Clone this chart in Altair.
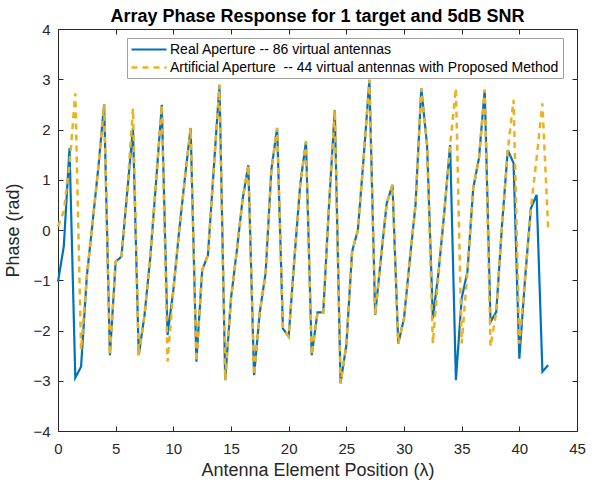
import altair as alt
import pandas as pd

# Element positions (half-wavelength spacing) and measured phases
positions = [i * 0.5 for i in range(86)]

real_phase = [
    -1.03, -0.33, 1.63, -2.94, -2.72, -0.92, 0.15, 1.25, 2.50, -2.49,
    -0.63, -0.53, 0.75, 2.03, -2.49, -1.70, -0.55, 0.95, 2.49, -2.09,
    -1.20, -0.03, 1.03, 2.03, -2.62, -0.80, -0.50, 1.20, 2.89, -2.99,
    -1.36, -0.42, 0.60, 1.29, -2.89, -1.63, -0.86, 1.20, 2.03, -1.96,
    -2.12, -0.56, 0.90, 1.76, -2.49, -1.64, -1.64, 0.50, 2.39, -3.05,
    -2.29, -0.43, 0.00, 1.43, 2.99, -1.69, -0.56, 0.53, 0.90, -2.26,
    -1.76, -0.60, 0.50, 2.82, 1.69, -1.76, -0.83, 0.37, 1.69, -2.99,
    -1.36, -0.83, 0.83, 1.43, 2.79, -1.83, -1.63, 0.10, 1.59, 1.33,
    -2.56, -0.96, 0.43, 0.70, -2.82, -2.69,
]

artificial_phase = [
    0.07, 0.37, 1.30, 2.72, -2.39, -0.92, 0.15, 1.25, 2.50, -2.49,
    -0.63, -0.53, 0.75, 2.42, -2.49, -1.70, -0.55, 0.95, 2.49, -2.62,
    -1.20, -0.03, 1.03, 2.03, -2.62, -0.80, -0.50, 1.20, 2.89, -2.99,
    -1.36, -0.42, 0.60, 1.29, -2.89, -1.63, -0.86, 1.20, 2.03, -1.96,
    -2.12, -0.56, 0.90, 1.76, -2.49, -1.64, -1.64, 0.50, 2.39, -3.05,
    -2.29, -0.43, 0.00, 1.43, 2.99, -1.69, -0.56, 0.53, 0.90, -2.26,
    -1.76, -0.60, 0.50, 2.82, 1.69, -2.26, -0.83, 0.37, 1.69, 2.82,
    -2.26, -0.83, 0.83, 1.43, 2.79, -2.32, -1.63, 0.10, 1.59, 2.59,
    -2.26, -0.96, 0.43, 1.43, 2.52, 0.02,
]

x_ticks = [0, 5, 10, 15, 20, 25, 30, 35, 40, 45]
y_ticks = [-4, -3, -2, -1, 0, 1, 2, 3, 4]

REAL = "Real Aperture -- 86 virtual antennas"
ART = "Artificial Aperture \u00a0-- 44 virtual antennas with Proposed Method"
series_names = [REAL, ART]
series_colors = ["#0072BD", "#EDB120"]
series_dash = [[1, 0], [6, 5]]
series_width = [2.2, 2.5]

df = pd.DataFrame({
    "pos": positions + positions,
    "phase": real_phase + artificial_phase,
    "series": [REAL] * len(positions) + [ART] * len(positions),
})

FONT = "Liberation Sans"
INK = "#262626"

x_scale = alt.Scale(domain=[0, 45], nice=False, zero=False)
y_scale = alt.Scale(domain=[-4, 4], nice=False, zero=False)

# legend sample: a long horizontal stroke drawn from a custom path
legend = alt.Legend(
    title=None, orient="none", legendX=69, legendY=9,
    direction="vertical", symbolType="M-1,0L4,0", symbolSize=196,
    labelFontSize=14, labelFont=FONT, labelColor="#000000", labelLimit=600,
    labelOffset=23, padding=3, rowPadding=2,
    strokeColor="#a0a0a0", fillColor="#ffffff", symbolStrokeWidth=2.5,
)

color = alt.Color("series:N", scale=alt.Scale(domain=series_names, range=series_colors), legend=legend)
dash = alt.StrokeDash("series:N", scale=alt.Scale(domain=series_names, range=series_dash), legend=legend)
width = alt.StrokeWidth("series:N", scale=alt.Scale(domain=series_names, range=series_width), legend=legend)

main_x = alt.Axis(orient="bottom", values=x_ticks, tickSize=0, domain=False, grid=False,
                  labelFlush=False, labelPadding=10, titlePadding=5,
                  title="Antenna Element Position (λ)")
main_y = alt.Axis(orient="left", values=y_ticks, tickSize=0, domain=False, grid=False,
                  labelFlush=False, labelPadding=8, titlePadding=10, title="Phase (rad)")

real_layer = alt.Chart(df).transform_filter(alt.datum.series == REAL).mark_line().encode(
    x=alt.X("pos:Q", scale=x_scale, axis=main_x),
    y=alt.Y("phase:Q", scale=y_scale, axis=main_y),
    color=color, strokeDash=dash, strokeWidth=width,
)

art_layer = alt.Chart(df).transform_filter(alt.datum.series == ART).mark_line().encode(
    x=alt.X("pos:Q", scale=x_scale,
            axis=alt.Axis(orient="bottom", values=x_ticks, offset=-5, tickSize=5, labels=False,
                          domain=False, grid=False, title=None, tickColor=INK)),
    y=alt.Y("phase:Q", scale=y_scale,
            axis=alt.Axis(orient="left", values=y_ticks, offset=-5, tickSize=5, labels=False,
                          domain=False, grid=False, title=None, tickColor=INK)),
    color=color, strokeDash=dash, strokeWidth=width,
)

# inward ticks on the top and right edges of the box
edge_layer = alt.Chart(df).transform_filter(alt.datum.series == REAL).mark_line(opacity=0).encode(
    x=alt.X("pos:Q", scale=x_scale,
            axis=alt.Axis(orient="top", values=x_ticks, offset=-5, tickSize=5, labels=False,
                          domain=False, grid=False, title=None, tickColor=INK)),
    y=alt.Y("phase:Q", scale=y_scale,
            axis=alt.Axis(orient="right", values=y_ticks, offset=-5, tickSize=5, labels=False,
                          domain=False, grid=False, title=None, tickColor=INK)),
)

chart = alt.layer(real_layer, art_layer, edge_layer).resolve_axis(
    x="independent", y="independent"
).properties(
    width=519, height=402,
    background="#ffffff",
    autosize=alt.AutoSizeParams(type="none"),
    padding={"left": 58, "top": 29, "right": 19, "bottom": 54},
    title=alt.Title("Array Phase Response for 1 target and 5dB SNR", fontSize=18,
                    fontWeight="bold", font=FONT, color="#000000", anchor="middle", offset=-4),
).configure_view(
    stroke=INK, strokeWidth=1,
).configure_axis(
    labelFont=FONT, titleFont=FONT, labelFontSize=15, titleFontSize=18,
    labelColor=INK, titleColor=INK, titleFontWeight="normal", tickColor=INK,
)

chart.save("out.html", embed_options={"renderer": "svg", "actions": False})
